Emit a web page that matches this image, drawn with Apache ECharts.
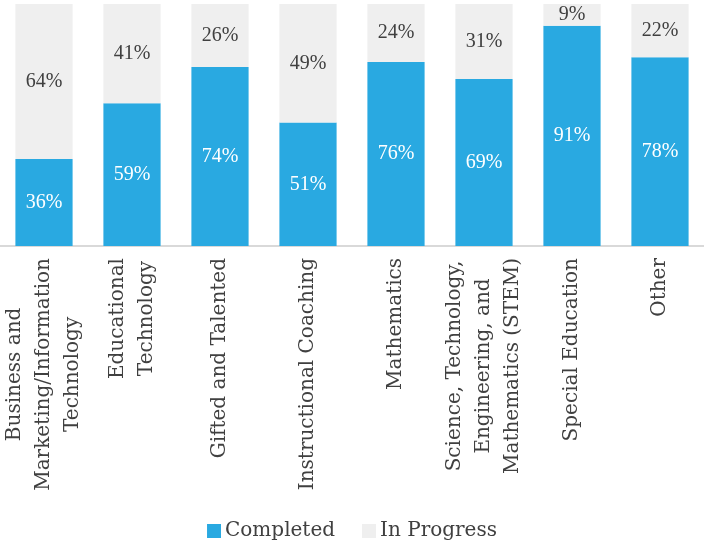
<!DOCTYPE html>
<html><head><meta charset="utf-8">
<script src="https://cdn.jsdelivr.net/npm/echarts@6/dist/echarts.min.js"></script>
<style>html,body{margin:0;padding:0;background:#fff}#c{width:704px;height:544px}</style>
</head><body><div id="c"></div>
<script>
const categories = [
  "Business and\nMarketing/Information\nTechnology",
  "Educational\nTechnology",
  "Gifted and Talented",
  "Instructional Coaching",
  "Mathematics",
  "Science, Technology,\nEngineering, and\nMathematics (STEM)",
  "Special Education",
  "Other"
];
const completed = [36, 59, 74, 51, 76, 69, 91, 78];
const inProgress = [64, 41, 26, 49, 24, 31, 9, 22];

const FONT = "DejaVu Serif";
const LFONT = "Liberation Serif";
const chart = echarts.init(document.getElementById('c'), null, {renderer: 'canvas'});
chart.setOption({
  animation: false,
  textStyle: {fontFamily: FONT},
  grid: {left: 0, right: 0, top: 4, bottom: 298, containLabel: false},
  legend: {
    top: 516, left: 'center',
    itemWidth: 14, itemHeight: 14, itemGap: 27,
    icon: 'rect',
    textStyle: {fontFamily: FONT, fontSize: 20, color: '#404040', padding: [0, 0, 0, -1]},
    data: ['Completed', 'In Progress']
  },
  xAxis: {
    type: 'category', data: categories,
    axisLine: {lineStyle: {color: '#d9d9d9', width: 2}},
    axisTick: {show: false},
    axisLabel: {
      rotate: 90, interval: 0, margin: 12,
      color: '#404040', fontFamily: FONT, fontSize: 20, lineHeight: 29,
      formatter: v => v.split('\n').map(l => '{c|' + l + '}').join('\n'),
      rich: {c: {align: 'center', fontFamily: FONT, fontSize: 20, lineHeight: 29, color: '#404040'}}
    }
  },
  yAxis: {type: 'value', min: 0, max: 100, show: false, splitLine: {show: false}},
  series: [
    {
      name: 'Completed', type: 'bar', stack: 'a', data: completed, barWidth: '65%',
      itemStyle: {color: '#29a9e1'},
      label: {show: true, position: 'inside', formatter: '{c}%', color: '#ffffff', fontFamily: LFONT, fontSize: 20}
    },
    {
      name: 'In Progress', type: 'bar', stack: 'a', data: inProgress, barWidth: '65%',
      itemStyle: {color: '#efefef'},
      label: {show: true, position: 'inside', formatter: '{c}%', color: '#404040', fontFamily: LFONT, fontSize: 20}
    }
  ]
});
</script></body></html>
